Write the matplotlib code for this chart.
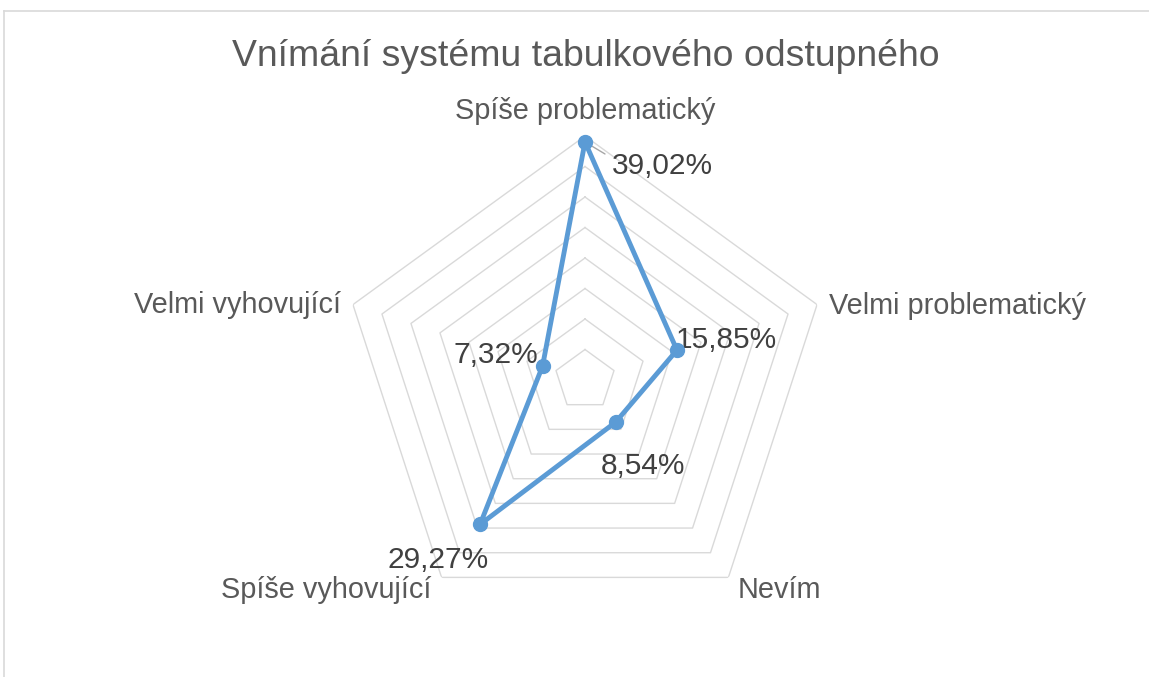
import numpy as np
import matplotlib
matplotlib.use("Agg")
import matplotlib.pyplot as plt
from matplotlib.lines import Line2D

categories = ['Spíše problematický', 'Velmi problematický', 'Nevím',
              'Spíše vyhovující', 'Velmi vyhovující']
values = [39.02, 15.85, 8.54, 29.27, 7.32]
value_labels = ['39,02%', '15,85%', '8,54%', '29,27%', '7,32%']
grid_levels = [5, 10, 15, 20, 25, 30, 35, 40]
title = 'Vnímání systému tabulkového odstupného'

plt.rcParams['font.family'] = ['Liberation Sans', 'DejaVu Sans']

W, H = 1149, 677
fig = plt.figure(figsize=(W / 100, H / 100), dpi=100)

# chart area border (only top and left edges are visible in the crop)
fig.add_artist(Line2D([4 / W, 1], [1 - 11 / H, 1 - 11 / H], color='#d9d9d9', lw=1.2))
fig.add_artist(Line2D([4 / W, 4 / W], [1 - 11 / H, 0], color='#d9d9d9', lw=1.2))

cx, cy, R = 585, 380, 244
ax = fig.add_axes([(cx - R) / W, (H - cy - R) / H, 2 * R / W, 2 * R / H], polar=True)
ax.set_theta_zero_location('N')
ax.set_theta_direction(-1)
ax.set_ylim(0, 40)
ax.axis('off')

n = len(categories)
angles = np.linspace(0, 2 * np.pi, n, endpoint=False)
closed = np.append(angles, angles[0])

for lvl in grid_levels:
    ax.plot(closed, [lvl] * (n + 1), color='#d9d9d9', lw=1.0, zorder=1)

vals = values + values[:1]
ax.plot(closed, vals, color='#5b9bd5', lw=3.5, zorder=3, clip_on=False)
ax.plot(angles, values, 'o', color='#5b9bd5', ms=10, zorder=4, clip_on=False)

# category labels
cat_offsets = [(0, 25, 'center'), (12, -1, 'left'), (9, -13, 'left'),
               (-10, -13, 'right'), (-12, 0, 'right')]
for a, lab, (dx, dy, ha) in zip(angles, categories, cat_offsets):
    ax.annotate(lab, xy=(a, 40), xytext=(dx, dy), textcoords='offset pixels',
                ha=ha, va='center', fontsize=20.8, color='#595959',
                annotation_clip=False)

# data labels
lab_offsets = [(27, -24, 'left'), (-1, 10, 'left'), (27, -44, 'center'),
               (-42, -36, 'center'), (-47, 11, 'center')]
for a, v, lab, (dx, dy, ha) in zip(angles, values, value_labels, lab_offsets):
    ax.annotate(lab, xy=(a, v), xytext=(dx, dy), textcoords='offset pixels',
                ha=ha, va='center', fontsize=21.5, color='#404040',
                annotation_clip=False)

# leader line for the top label
ax.annotate('', xy=(angles[0], values[0]), xytext=(20, -12), textcoords='offset pixels',
            arrowprops=dict(arrowstyle='-', color='#a6a6a6', lw=1.0,
                            shrinkA=0, shrinkB=3), annotation_clip=False)

fig.text(0.5 * (233 + 938) / W, 1 - 57 / H, title, ha='center', va='center',
         fontsize=26.9, color='#595959')

fig.savefig('out.png', dpi=100)
